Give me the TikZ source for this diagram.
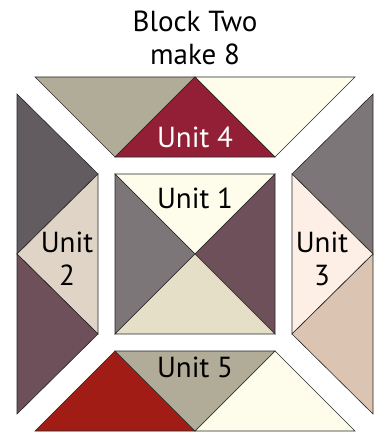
\documentclass[tikz,border=0pt]{standalone}
\usepackage{fontspec}
\setmainfont{PT Sans}
\usetikzlibrary{positioning}
\definecolor{taupe}{RGB}{176,172,152}
\definecolor{cream}{RGB}{254,253,236}
\definecolor{wine}{RGB}{146,31,53}
\definecolor{brick}{RGB}{161,28,20}
\definecolor{slate}{RGB}{98,92,96}
\definecolor{stone}{RGB}{124,118,120}
\definecolor{plum}{RGB}{110,80,90}
\definecolor{sand}{RGB}{224,212,198}
\definecolor{blush}{RGB}{253,238,230}
\definecolor{tan}{RGB}{220,196,178}
\definecolor{linen}{RGB}{230,223,200}

\begin{document}
\begin{tikzpicture}[x=1pt, y=-1pt,
      patch/.style={draw=black!85, line width=0.6pt, line join=miter},
      unitlabel/.style={font=\fontsize{29}{33}\selectfont, align=center, inner sep=0pt}
    ]
    \useasboundingbox (0,0) rectangle (378,433);
    % title
    \node[unitlabel] (title) at (195,38) {Block Two\\make 8};
    % unit 4 (top)
    \fill[taupe, patch] (35,77) -- (195,77) -- (115,157) -- cycle;
    \fill[cream, patch] (195,77) -- (355,77) -- (275,157) -- cycle;
    \fill[wine, patch]  (115,157) -- (275,157) -- (195,77) -- cycle;
    % unit 1 (centre)
    \fill[cream, patch] (115,174) -- (275,174) -- (195,254) -- cycle;
    \fill[stone, patch] (115,174) -- (195,254) -- (115,334) -- cycle;
    \fill[plum, patch]  (275,174) -- (275,334) -- (195,254) -- cycle;
    \fill[linen, patch] (115,334) -- (195,254) -- (275,334) -- cycle;
    % unit 2 (left)
    \fill[slate, patch] (17,94) -- (98,174) -- (17,254) -- cycle;
    \fill[sand, patch]  (98,174) -- (98,334) -- (17,254) -- cycle;
    \fill[plum, patch]  (17,254) -- (98,334) -- (17,414) -- cycle;
    % unit 3 (right)
    \fill[stone, patch] (373,94) -- (292,174) -- (373,254) -- cycle;
    \fill[blush, patch] (292,174) -- (292,334) -- (373,254) -- cycle;
    \fill[tan, patch]   (373,254) -- (292,334) -- (373,414) -- cycle;
    % unit 5 (bottom)
    \fill[brick, patch] (35,431) -- (115,351) -- (195,431) -- cycle;
    \fill[cream, patch] (275,351) -- (355,431) -- (195,431) -- cycle;
    \fill[taupe, patch] (115,351) -- (275,351) -- (195,431) -- cycle;
    % labels
    \node[unitlabel, text=white] (u4) at (195,137) {Unit 4};
    \node[unitlabel] (u1) at (195,198) {Unit 1};
    \node[unitlabel] (u2) at (67,259) {Unit\\2};
    \node[unitlabel] (u3) at (322,259) {Unit\\3};
    \node[unitlabel] (u5) at (195,367) {Unit 5};
  \end{tikzpicture}
\end{document}
